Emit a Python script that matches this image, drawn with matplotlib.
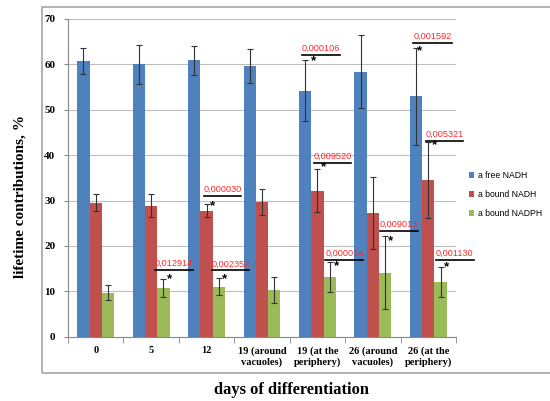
import matplotlib
matplotlib.use("Agg")
import matplotlib.pyplot as plt
import numpy as np
from matplotlib.patches import Rectangle

categories = ["0", "5", "12", "19 (around\nvacuoles)", "19 (at the\nperiphery)",
              "26 (around\nvacuoles)", "26 (at the\nperiphery)"]
series_names = ["a free NADH", "a bound NADH", "a bound NADPH"]
free_nadh = [60.7, 60.0, 60.9, 59.7, 54.2, 58.4, 53.0]
free_nadh_err = [2.9, 4.3, 3.2, 3.7, 6.7, 8.0, 10.7]
bound_nadh = [29.5, 28.9, 27.8, 29.7, 32.2, 27.2, 34.5]
bound_nadh_err = [1.9, 2.6, 1.4, 2.8, 4.7, 7.9, 8.4]
bound_nadph = [9.7, 10.8, 11.0, 10.3, 13.1, 14.1, 12.1]
bound_nadph_err = [1.7, 2.0, 1.9, 2.8, 3.3, 8.1, 3.3]

# significance annotations: label, line x-start, x-end (category units), line y, star x, star y
sig_labels = ["0,012914", "0,002352", "0,000030", "0,000106", "0,009520",
              "0,000014", "0,009013", "0,001592", "0,005321", "0,001130"]
sig_x0 = [1.07, 2.09, 1.95, 3.73, 3.93, 4.14, 5.13, 5.73, 5.96, 6.14]
sig_x1 = [1.76, 2.77, 2.63, 4.41, 4.61, 4.83, 5.81, 6.43, 6.62, 6.82]
sig_y = [14.7, 14.6, 31.0, 62.1, 38.3, 17.0, 23.3, 64.8, 43.1, 17.0]
star_x = [1.33, 2.33, 2.10, 3.92, 4.11, 4.34, 5.31, 5.84, 6.12, 6.32]
star_y = [12.7, 12.7, 28.8, 60.6, 37.4, 15.5, 21.1, 63.0, 42.1, 15.3]

colors = ["#4F81BD", "#C0504D", "#9BBB59"]

fig = plt.figure(figsize=(5.5, 4.01), dpi=100)
ax = fig.add_axes([68/550, 1-336.7/401, (456-68)/550, (336.7-19)/401])

# chart area border
fig.patches.append(Rectangle((42/550, 1-373/401), 1.2, (373-7)/401, transform=fig.transFigure,
                             fill=False, edgecolor="#A6A6A6", linewidth=1.2, clip_on=False))

x = np.arange(len(categories))
w = 0.222
vals = [free_nadh, bound_nadh, bound_nadph]
errs = [free_nadh_err, bound_nadh_err, bound_nadph_err]
for i, (v, e) in enumerate(zip(vals, errs)):
    ax.bar(x + (i-1)*w, v, w, color=colors[i], label=series_names[i], zorder=2,
           yerr=e, error_kw=dict(ecolor="#333333", elinewidth=0.8, capsize=2.2, capthick=0.8, zorder=3))

for lab, a, b, yy, sx, sy in zip(sig_labels, sig_x0, sig_x1, sig_y, star_x, star_y):
    ax.plot([a, b], [yy, yy], color="black", lw=1.2, clip_on=False, zorder=4)
    ax.text((a+b)/2, yy+0.45, lab, color="#FF2A2A", fontsize=6.6, ha="center", va="bottom",
            family="Liberation Sans", zorder=4, clip_on=False)
    ax.text(sx, sy, "*", color="black", fontsize=9.5, ha="center", va="center",
            family="Liberation Sans", fontweight="bold", zorder=4)

ax.set_xlim(-0.5, len(categories)-0.5)
ax.set_ylim(0, 70)
ax.set_yticks(np.arange(0, 71, 10))
ax.set_yticklabels([str(t) for t in range(0, 71, 10)], family="Liberation Serif",
                   fontweight="bold", fontsize=8)
ax.yaxis.grid(True, color="#BFBFBF", lw=0.8, zorder=0)
ax.set_axisbelow(True)
ax.tick_params(axis="y", length=3, color="#888888", pad=6)
ax.set_xticks(x)
ax.set_xticklabels(categories, family="Liberation Serif", fontweight="bold", fontsize=7.5,
                   linespacing=1.25)
ax.set_xticks(np.arange(-0.5, len(categories), 1), minor=True)
ax.tick_params(axis="x", which="major", length=0, pad=7)
ax.tick_params(axis="x", which="minor", length=4, color="#888888")
for s in ["top", "right"]:
    ax.spines[s].set_visible(False)
for s in ["left", "bottom"]:
    ax.spines[s].set_color("#888888")
    ax.spines[s].set_linewidth(0.8)

ax.legend(loc="upper left", bbox_to_anchor=(463/550, 1-165/401), bbox_transform=fig.transFigure,
          frameon=False, prop=dict(family="Liberation Sans", size=6.2), handlelength=0.6,
          handleheight=0.6, handletextpad=0.4, labelspacing=1.15, borderpad=0.2)

fig.text(20/550, 1-196/401, "lifetime contributions, %", rotation=90, ha="center", va="center",
         family="Liberation Serif", fontweight="bold", fontsize=11)
fig.text(291/550, 1-390/401, "days of differentiation", ha="center", va="center",
         family="Liberation Serif", fontweight="bold", fontsize=11.8)

fig.savefig("out.png", dpi=100)
